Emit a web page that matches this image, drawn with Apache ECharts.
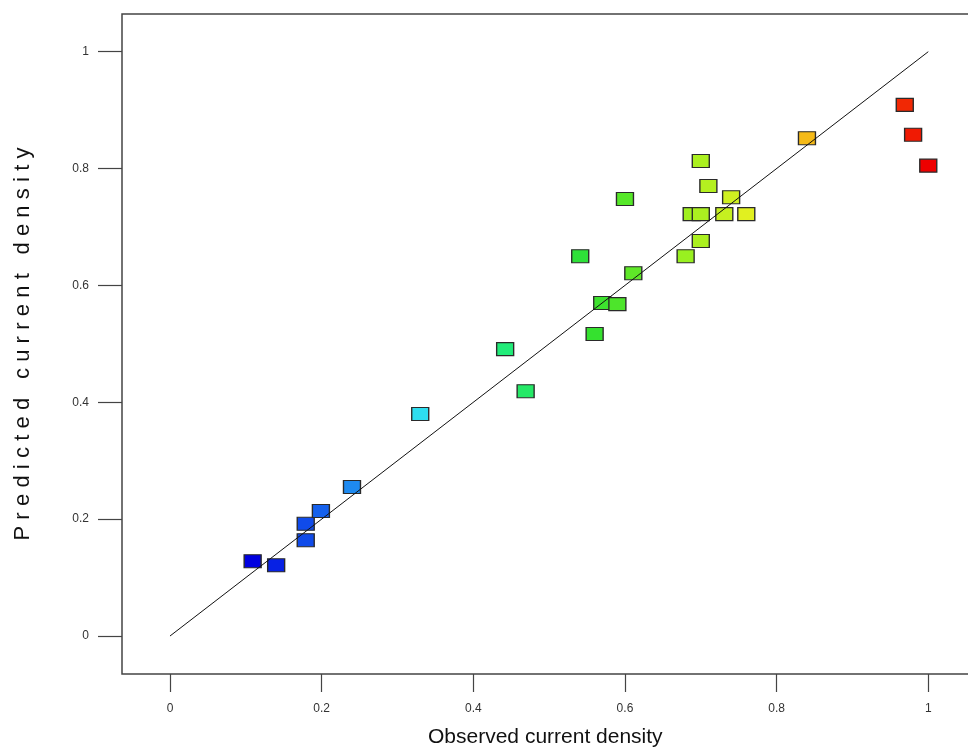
<!DOCTYPE html>
<html>
<head>
<meta charset="utf-8">
<script src="https://cdn.jsdelivr.net/npm/echarts@6/dist/echarts.min.js"></script>
<style>
  html, body { margin: 0; padding: 0; background: #fff; overflow: hidden; }
  /* chart is a bit wider than the window so the right border of the box is cut off, as in the original */
  #myChart { width: 990px; height: 756px; }
</style>
</head>
<body>
<div id="myChart"></div>
<script>
// observed vs predicted values
var observed = [0.109, 0.140, 0.179, 0.179, 0.199, 0.240, 0.330, 0.442, 0.469, 0.541,
                0.560, 0.570, 0.590, 0.600, 0.611, 0.680, 0.688, 0.700, 0.700, 0.700,
                0.710, 0.731, 0.740, 0.760, 0.840, 0.969, 0.980, 1.000];
var predicted = [0.128, 0.121, 0.192, 0.164, 0.214, 0.255, 0.380, 0.491, 0.419, 0.650,
                 0.517, 0.570, 0.568, 0.748, 0.621, 0.650, 0.722, 0.722, 0.813, 0.676,
                 0.770, 0.722, 0.751, 0.722, 0.852, 0.909, 0.858, 0.805];
var tickValues = [0, 0.2, 0.4, 0.6, 0.8, 1];
var fitLine = [[0, 0], [1, 1]];
var xTitle = 'Observed current density';
var yTitle = 'Predicted current density';

var points = [];
for (var i = 0; i < observed.length; i++) {
    points.push([observed[i], predicted[i]]);
}

var labelStyle = {
    customValues: tickValues,
    color: '#333',
    fontSize: 12,
    fontFamily: 'Liberation Sans, Arial',
    formatter: function (v) { return String(+v.toFixed(1)); }
};

var option = {
    animation: false,
    backgroundColor: '#fff',
    grid: {
        left: 122,
        top: 14,
        right: 0,
        bottom: 82,
        show: true,
        borderColor: '#444',
        borderWidth: 1.5
    },
    visualMap: {
        show: false,
        type: 'continuous',
        seriesIndex: 0,
        dimension: 0,
        min: 0.109,
        max: 1,
        inRange: {
            // rainbow from blue (low) to red (high)
            color: ['#0000e0', '#1a78f0', '#2ee0f0', '#22ec78', '#30e030', '#8cf020', '#f0f020', '#f89010', '#ee0000']
        }
    },
    xAxis: {
        type: 'value',
        min: -0.0633,
        max: 1.0814,
        splitLine: { show: false },
        axisLine: { show: false, onZero: false },
        axisTick: { show: true, customValues: tickValues, length: 18, lineStyle: { color: '#444', width: 1.2 } },
        axisLabel: Object.assign({ margin: 29 }, labelStyle),
        name: xTitle,
        nameLocation: 'start',
        nameGap: 0,
        nameTextStyle: { fontSize: 21, color: '#111', fontFamily: 'Liberation Sans, Arial' }
    },
    yAxis: {
        type: 'value',
        min: -0.065,
        max: 1.0645,
        splitLine: { show: false },
        axisLine: { show: false, onZero: false },
        axisTick: { show: true, customValues: tickValues, length: 24, lineStyle: { color: '#444', width: 1.2 } },
        axisLabel: Object.assign({ margin: 33 }, labelStyle),
        name: yTitle.split('').join('\u2009\u200a'),
        nameLocation: 'middle',
        nameGap: 88,
        nameTextStyle: { fontSize: 22, color: '#111', fontFamily: 'Liberation Sans, Arial' }
    },
    series: [{
        type: 'scatter',
        data: points,
        symbol: 'rect',
        symbolSize: [17, 13],
        itemStyle: { borderColor: '#2a2a2a', borderWidth: 1.2, opacity: 1 },
        z: 2
    }, {
        type: 'line',
        data: fitLine,
        symbol: 'none',
        lineStyle: { color: '#111', width: 1 },
        z: 3
    }]
};

// the x title is centred on the visible part of the box, not on the whole (partly hidden) box
option.xAxis.name = '';
option.graphic = [{
    type: 'text',
    left: 545 - 117,
    top: 727,
    style: {
        text: xTitle,
        fontSize: 21,
        fill: '#111',
        fontFamily: 'Liberation Sans, Arial'
    }
}];

var myChart = echarts.init(document.getElementById('myChart'));
myChart.setOption(option);
</script>
</body>
</html>
